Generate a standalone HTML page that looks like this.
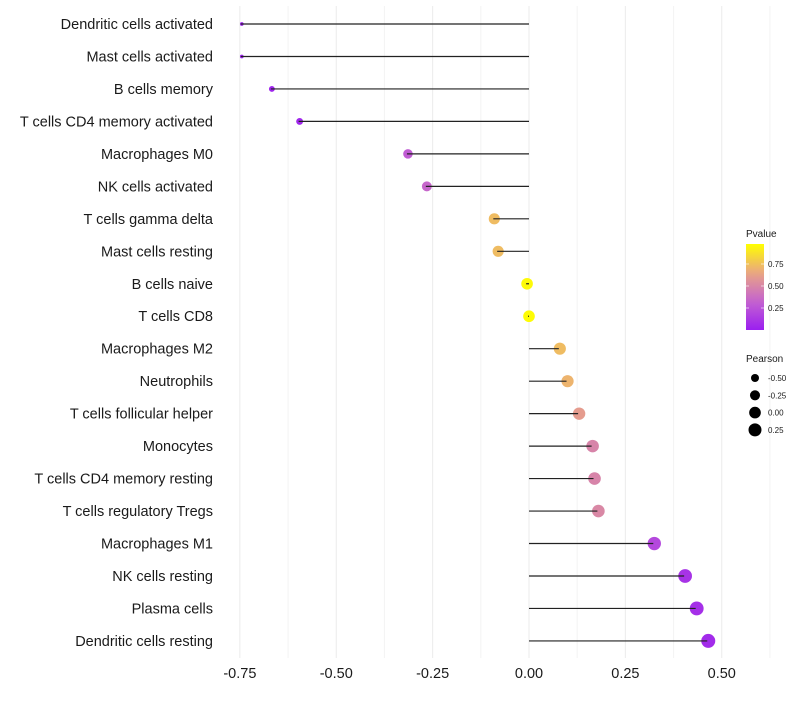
<!DOCTYPE html>
<html><head><meta charset="utf-8"><style>
body{margin:0;background:#fff;font-family:"Liberation Sans",sans-serif}
</style></head><body>
<svg id="c" width="800" height="700" xmlns="http://www.w3.org/2000/svg" style="font-family:'Liberation Sans',sans-serif"></svg>
<script>
const categories=["Dendritic cells activated","Mast cells activated","B cells memory","T cells CD4 memory activated","Macrophages M0","NK cells activated","T cells gamma delta","Mast cells resting","B cells naive","T cells CD8","Macrophages M2","Neutrophils","T cells follicular helper","Monocytes","T cells CD4 memory resting","T cells regulatory  Tregs ","Macrophages M1","NK cells resting","Plasma cells","Dendritic cells resting"];
const pearson=[-0.745,-0.745,-0.667,-0.595,-0.314,-0.265,-0.09,-0.08,-0.005,0.0,0.08,0.10,0.13,0.165,0.17,0.18,0.325,0.405,0.435,0.465];
const pvalues=[0.02,0.02,0.03,0.04,0.3,0.35,0.75,0.75,0.98,0.99,0.75,0.72,0.62,0.5,0.5,0.52,0.2,0.1,0.08,0.06];
const xTicks=[-0.75,-0.5,-0.25,0,0.25,0.5];
const xTickLabels=["-0.75","-0.50","-0.25","0.00","0.25","0.50"];
const pTicks=[0.25,0.5,0.75];
const sizeTicks=[-0.5,-0.25,0,0.25];
const NS="http://www.w3.org/2000/svg";
const svg=document.getElementById('c');
const X=v=>529+v*385.5;
const Y=i=>24+i*32.47;
const R=v=>1.5+5.5*Math.sqrt(Math.max(0,v+0.75)/1.215);
function mix(a,b,t){return a.map((x,i)=>Math.round(x+(b[i]-x)*t));}
const stops=[[0,[155,31,240]],[0.33,[196,98,208]],[0.66,[233,164,133]],[1,[255,255,0]]];
function col(p){for(let i=0;i<stops.length-1;i++){if(p<=stops[i+1][0]){const t=(p-stops[i][0])/(stops[i+1][0]-stops[i][0]);const c=mix(stops[i][1],stops[i+1][1],t);return `rgb(${c})`;}}return 'rgb(255,255,0)';}
function el(t,a,txt){const e=document.createElementNS(NS,t);for(const k in a)e.setAttribute(k,a[k]);if(txt!==undefined)e.textContent=txt;svg.appendChild(e);return e;}
for(let v=-0.75;v<=0.626;v+=0.125){
 const g=el('line',{x1:X(v),x2:X(v),y1:6,y2:658,stroke:Math.abs((v/0.25)-Math.round(v/0.25))<0.01?'#ebebeb':'#f3f3f3','stroke-width':1});
 
 
}
categories.forEach((c,i)=>{
 const y=Y(i);
 const t=el('text',{x:213,y:y+5,'text-anchor':'end','font-size':14.5,fill:'#1a1a1a'},c);
 
 
 const p=el('circle',{cx:X(pearson[i]),cy:y,r:R(pearson[i]),fill:col(pvalues[i])});
 
 
 const l=el('line',{x1:X(0),x2:X(pearson[i])-1,y1:y,y2:y,stroke:'#222','stroke-width':1.2});
 
 
});
xTicks.forEach((v,i)=>{
 const t=el('text',{x:X(v),y:678,'text-anchor':'middle','font-size':14.5,fill:'#1a1a1a'},xTickLabels[i]);
 
 
});
const defs=el('defs',{});
const lg=document.createElementNS(NS,'linearGradient');lg.setAttribute('id','pg');lg.setAttribute('x1',0);lg.setAttribute('y1',1);lg.setAttribute('x2',0);lg.setAttribute('y2',0);
defs.appendChild(lg);
for(let k=0;k<=10;k++){const s=document.createElementNS(NS,'stop');s.setAttribute('offset',k/10);s.setAttribute('stop-color',col(k/10));lg.appendChild(s);}
const lt=el('text',{x:746,y:237,'font-size':10,fill:'#1a1a1a'},'Pvalue');


const cb=el('rect',{x:746,y:244,width:18,height:86,fill:'url(#pg)'});


const PY=p=>330-p*88;
pTicks.forEach(p=>{
 el('line',{x1:746,x2:749,y1:PY(p),y2:PY(p),stroke:'#fff','stroke-opacity':0.6});
 el('line',{x1:761,x2:764,y1:PY(p),y2:PY(p),stroke:'#fff','stroke-opacity':0.6});
 const t=el('text',{x:768,y:PY(p)+3,'font-size':8,fill:'#1a1a1a'},p.toFixed(2));
 
 
});
const st=el('text',{x:746,y:362,'font-size':10,fill:'#1a1a1a'},'Pearson');


sizeTicks.forEach((v,i)=>{
 const y=378+i*17.3;
 const d=el('circle',{cx:755,cy:y,r:R(v),fill:'#000'});
 
 
 const t=el('text',{x:768,y:y+3,'font-size':8,fill:'#1a1a1a'},v.toFixed(2));
 
 
});
</script>
</body></html>
